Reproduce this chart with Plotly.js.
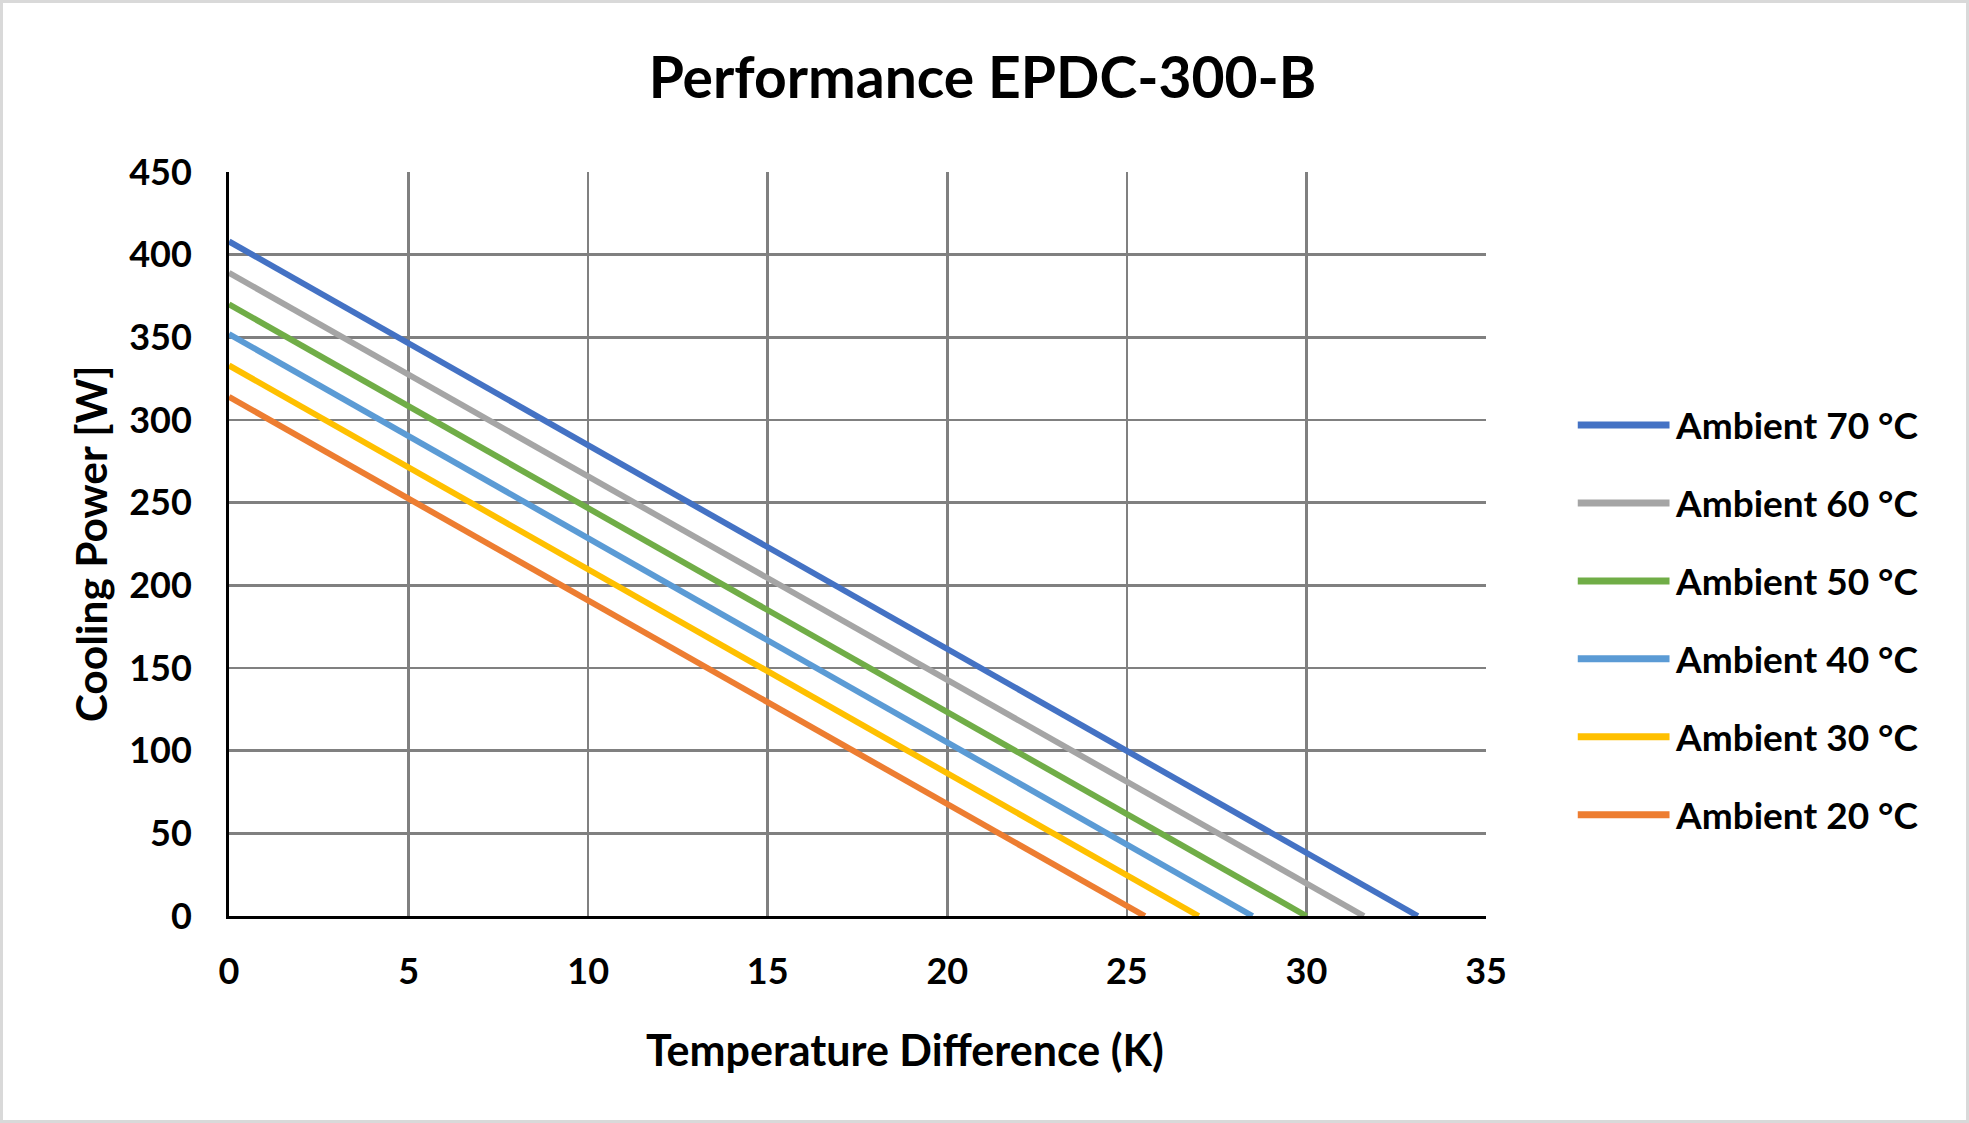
<!DOCTYPE html>
<html>
<head>
<meta charset="utf-8">
<script src="https://cdn.plot.ly/plotly-3.0.1.min.js"></script>
<style>
  html, body { margin: 0; padding: 0; background: #ffffff; }
  #chart { width: 1969px; height: 1123px; box-sizing: border-box; border: 3px solid #d9d9d9; }
</style>
</head>
<body>
<div id="chart"></div>
<script>
/* Performance EPDC-300-B — cooling power vs. temperature difference */

var seriesNames  = ['Ambient 70 °C', 'Ambient 60 °C', 'Ambient 50 °C', 'Ambient 40 °C', 'Ambient 30 °C', 'Ambient 20 °C'];
var seriesColors = ['#4472c4', '#a5a5a5', '#70ad47', '#5b9bd5', '#ffc000', '#ed7d31'];

// each curve is a straight line from (0, Qmax) to (dTmax, 0)
var dTmax = [33.1, 31.6, 30.0, 28.5, 27.0, 25.5];
var qMax  = [408, 389, 370, 352, 333, 314];

var xTicks = [0, 5, 10, 15, 20, 25, 30, 35];
var yTicks = [0, 50, 100, 150, 200, 250, 300, 350, 400, 450];

var FONT = 'Lato, "Open Sans", sans-serif';

var traces = seriesNames.map(function (name, i) {
  return {
    type: 'scatter',
    mode: 'lines',
    name: name,
    x: [0, dTmax[i]],
    y: [qMax[i], 0],
    line: { color: seriesColors[i], width: 6 },
    showlegend: false
  };
});

/* legend drawn by hand so the swatch length matches the original */
var shapes = [], annotations = [];
var legTop = 0.66, legStep = 0.1048;
seriesNames.forEach(function (name, i) {
  var yy = legTop - i * legStep;
  shapes.push({
    type: 'line', xref: 'paper', yref: 'paper',
    x0: 1.073, x1: 1.146, y0: yy, y1: yy,
    line: { color: seriesColors[i], width: 7 }
  });
  annotations.push({
    xref: 'paper', yref: 'paper', x: 1.149, y: yy,
    xanchor: 'left', yanchor: 'middle', showarrow: false,
    text: '<b>' + name + '</b>',
    font: { family: FONT, size: 37, color: '#000000' }
  });
});

/* axis titles as annotations (the x title sits right of centre in the original) */
annotations.push({
  xref: 'paper', yref: 'paper', x: 0.5375, y: -0.179,
  xanchor: 'center', yanchor: 'middle', showarrow: false,
  text: '<b>Temperature Difference (K)</b>',
  font: { family: FONT, size: 43, color: '#000000' }
});
annotations.push({
  xref: 'paper', yref: 'paper', x: -0.1103, y: 0.5,
  xanchor: 'center', yanchor: 'middle', showarrow: false, textangle: -90,
  text: '<b>Cooling Power [W]</b>',
  font: { family: FONT, size: 42.5, color: '#000000' }
});

var layout = {
  width: 1963,
  height: 1117,
  paper_bgcolor: '#ffffff',
  plot_bgcolor: '#ffffff',
  font: { family: FONT, color: '#000000' },
  margin: { l: 226, r: 480, t: 169, b: 204 },
  title: {
    text: '<b>Performance EPDC-300-B</b>',
    font: { family: FONT, size: 57, color: '#000000' },
    x: 0.499, xanchor: 'center', y: 0.933, yanchor: 'middle'
  },
  xaxis: {
    range: [0, 35],
    tickvals: xTicks,
    ticktext: xTicks.map(function (v) { return '<b>' + v + '</b>'; }),
    tickfont: { family: FONT, size: 36, color: '#000000' },
    ticks: '',
    ticklabelstandoff: 22,
    showgrid: true, gridcolor: '#808080', gridwidth: 2.5,
    zeroline: false,
    showline: true, linecolor: '#000000', linewidth: 3,
    fixedrange: true,
    automargin: false
  },
  yaxis: {
    range: [0, 450],
    tickvals: yTicks,
    ticktext: yTicks.map(function (v) { return '<b>' + v + '</b>'; }),
    tickfont: { family: FONT, size: 36, color: '#000000' },
    ticks: '',
    ticklabelstandoff: 27,
    showgrid: true, gridcolor: '#808080', gridwidth: 2.5,
    zeroline: false,
    showline: true, linecolor: '#000000', linewidth: 3,
    fixedrange: true,
    automargin: false
  },
  showlegend: false,
  shapes: shapes,
  annotations: annotations
};

Plotly.newPlot('chart', traces, layout, { displayModeBar: false, staticPlot: true });
</script>
</body>
</html>
